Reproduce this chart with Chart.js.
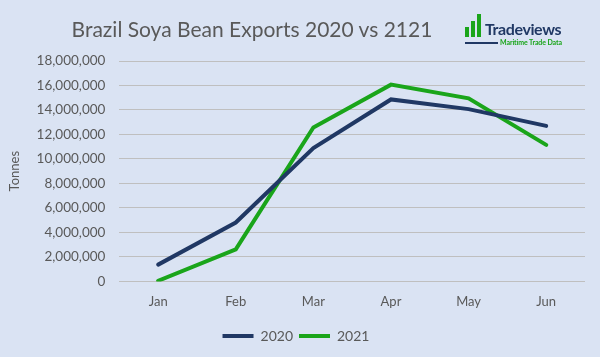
<!DOCTYPE html>
<html><head><meta charset="utf-8">
<script src="https://cdn.jsdelivr.net/npm/chart.js@4"></script>
<style>
html,body{margin:0;padding:0;background:#dae3f3;}
#wrap{position:relative;width:600px;height:357px;background:#dae3f3;overflow:hidden;}
#c{position:absolute;left:0;top:0;}
#title{position:absolute;left:0;width:504px;top:16px;text-align:center;font:21px Lato,"Open Sans",sans-serif;color:#595959;}
#logo{position:absolute;left:464px;top:12px;width:110px;height:36px;}
.bar{position:absolute;background:#1aa51a;width:4px;}
#lname{position:absolute;left:21px;top:7px;font:bold 16px Lato,"Open Sans",sans-serif;color:#203864;letter-spacing:-0.4px;line-height:19px;}
#lline{position:absolute;left:1px;top:30px;width:33px;height:2px;background:#203864;}
#lsub{position:absolute;left:36px;top:26px;font:bold 7px Lato,sans-serif;color:#1aa51a;white-space:nowrap;letter-spacing:-0.1px;}
</style></head>
<body><div id="wrap">
<canvas id="c" width="600" height="357"></canvas>
<div id="title">Brazil Soya Bean Exports 2020 vs 2121</div>
<div id="logo">
<div class="bar" style="left:1px;top:15px;height:10px"></div>
<div class="bar" style="left:7px;top:9px;height:16px"></div>
<div class="bar" style="left:13px;top:2px;height:23px"></div>
<div id="lname">Tradeviews</div>
<div id="lline"></div>
<div id="lsub">Maritime Trade Data</div>
</div>
</div>
<script>
const categories = ["Jan","Feb","Mar","Apr","May","Jun"];
const series2020 = [1370000, 4810000, 10880000, 14860000, 14070000, 12700000];
const series2021 = [50000, 2620000, 12570000, 16070000, 14950000, 11150000];
const seriesNames = ["2020","2021"];
const yTicks = [0,2000000,4000000,6000000,8000000,10000000,12000000,14000000,16000000,18000000];

new Chart(document.getElementById('c'), {
  type: 'line',
  data: {
    labels: categories,
    datasets: [
      {label: seriesNames[0], data: series2020, borderColor:'#203864', backgroundColor:'#203864', borderWidth:4, pointRadius:0, tension:0, borderCapStyle:'round'},
      {label: seriesNames[1], data: series2021, borderColor:'#1aa51a', backgroundColor:'#1aa51a', borderWidth:4, pointRadius:0, tension:0, borderCapStyle:'round'}
    ]
  },
  options: {
    responsive:false, animation:false,
    layout:{padding:{left:7, right:15, top:61, bottom:4}},
    plugins:{
      title:{display:false},
      tooltip:{enabled:false},
      legend:{position:'bottom', labels:{usePointStyle:true, pointStyle:'line', pointStyleWidth:31, boxWidth:31, color:'#595959', font:{family:'Lato, "Open Sans", sans-serif', size:14}, padding:6}}
    },
    scales:{
      x:{offset:true, grid:{display:false, drawTicks:false}, border:{display:false},
         ticks:{color:'#595959', font:{family:'Lato, "Open Sans", sans-serif', size:13}, padding:13}},
      y:{min:0, max:18000000, afterBuildTicks:(ax)=>{ax.ticks = yTicks.map(v=>({value:v}));},
         grid:{color:'#bfbfbf', lineWidth:1, drawTicks:false}, border:{display:false},
         title:{display:true, text:'Tonnes', color:'#595959', font:{family:'Lato, "Open Sans", sans-serif', size:13}, padding:{top:0,bottom:0}},
         ticks:{color:'#595959', font:{family:'Lato, "Open Sans", sans-serif', size:13.5}, padding:14,
           callback:(v)=>v.toLocaleString('en-US')}}
    }
  }
});
</script>
</body></html>
